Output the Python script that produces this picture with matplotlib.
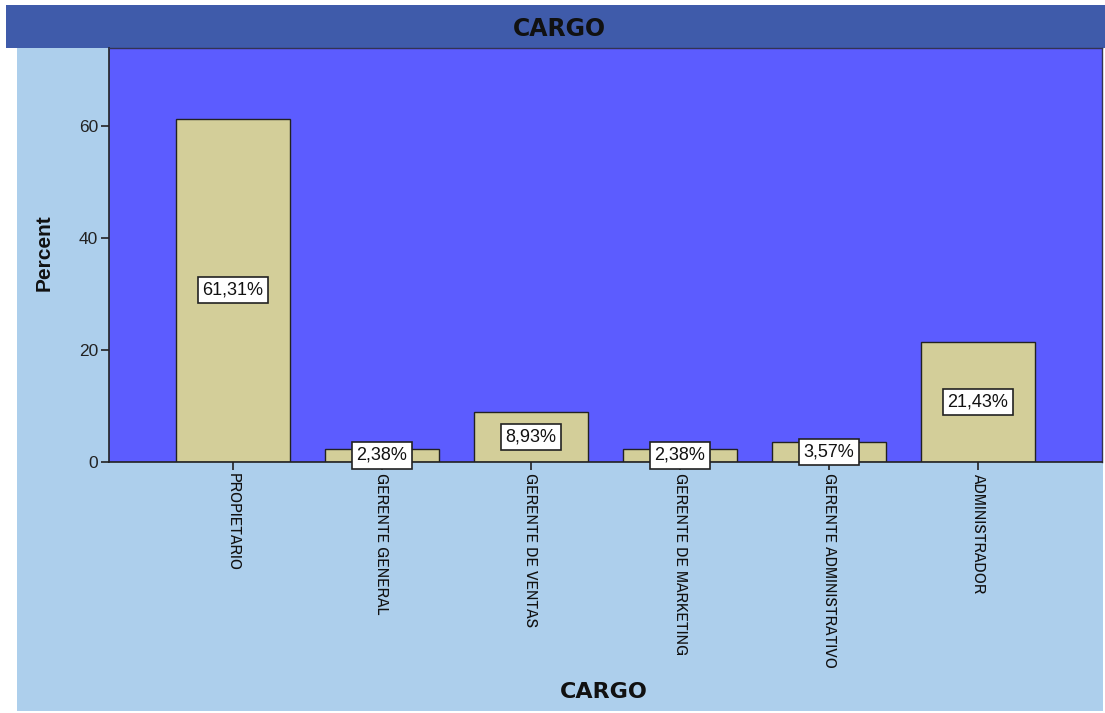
import matplotlib
matplotlib.use("Agg")
import matplotlib.pyplot as plt
from matplotlib.patches import Rectangle
from matplotlib import font_manager

categories = ["PROPIETARIO", "GERENTE GENERAL", "GERENTE DE VENTAS",
              "GERENTE DE MARKETING", "GERENTE ADMINISTRATIVO", "ADMINISTRADOR"]
percent = [61.31, 2.38, 8.93, 2.38, 3.57, 21.43]
yticks = [0, 20, 40, 60]

names = {f.name for f in font_manager.fontManager.ttflist}
narrow = "Liberation Sans"
for cand in ["Liberation Sans Narrow", "Archivo Narrow"]:
    if cand in names:
        narrow = cand
        break
plt.rcParams['font.family'] = ['Liberation Sans', 'DejaVu Sans']

W, H = 1105, 713
fig = plt.figure(figsize=(W / 100, H / 100), dpi=100)
fig.patch.set_facecolor("white")

def fx(px):
    return px / W

def fy(py):
    return 1 - py / H

# light blue background panel
fig.patches.append(Rectangle((fx(17), fy(711)), fx(1103) - fx(17), fy(48) - fy(711),
                             transform=fig.transFigure, facecolor="#ADCFEC",
                             edgecolor="none", zorder=-10))
# title bar
fig.patches.append(Rectangle((fx(6), fy(48)), fx(1105) - fx(6), fy(5) - fy(48),
                             transform=fig.transFigure, facecolor="#3F5BAA",
                             edgecolor="none", zorder=-10))
fig.text(fx(559), fy(29), "CARGO", ha="center", va="center", fontsize=17,
         fontweight="bold", color="#111111", family=["DejaVu Sans"])

ax = fig.add_axes([fx(109), fy(462), fx(1102) - fx(109), fy(48) - fy(462)])
ax.set_zorder(1)
ax.set_facecolor("#5C5CFF")

x = list(range(len(categories)))
ax.bar(x, percent, width=0.76, color="#D3CE99", edgecolor="#222222", linewidth=1.0, zorder=2)

for xi, v in zip(x, percent):
    lab = f"{v:.2f}%".replace(".", ",")
    ax.text(xi, v / 2, lab, ha="center", va="center", fontsize=13, zorder=4,
            color="#111111",
            bbox=dict(boxstyle="square,pad=0.26", facecolor="white",
                      edgecolor="#222222", linewidth=1.2))

ax.set_xlim(-0.832, len(categories) - 1 + 0.832)
ax.set_ylim(0, 73.9)
ax.set_yticks(yticks)
ax.set_yticklabels([str(t) for t in yticks], fontsize=12.5, color="#222222")
ax.set_xticks(x)
ax.set_xticklabels(categories, rotation=270, fontsize=12.5, family=[narrow, 'DejaVu Sans'],
                   va="top", ha="center", color="#111111")
ax.tick_params(axis="both", direction="out", length=6, width=1.2, color="#222222", pad=2)
for s in ["left", "bottom"]:
    ax.spines[s].set_color("#222222")
    ax.spines[s].set_linewidth(1.2)
for s in ["top", "right"]:
    ax.spines[s].set_color("#333355")
    ax.spines[s].set_linewidth(1.0)

fig.text(fx(44), fy(253), "Percent", rotation=90, ha="center", va="center",
         fontsize=15, fontweight="bold", color="#111111")
fig.text(fx(604), fy(692), "CARGO", ha="center", va="center",
         fontsize=16, fontweight="bold", color="#111111", family=["DejaVu Sans"])

fig.savefig("out.png", dpi=100)
